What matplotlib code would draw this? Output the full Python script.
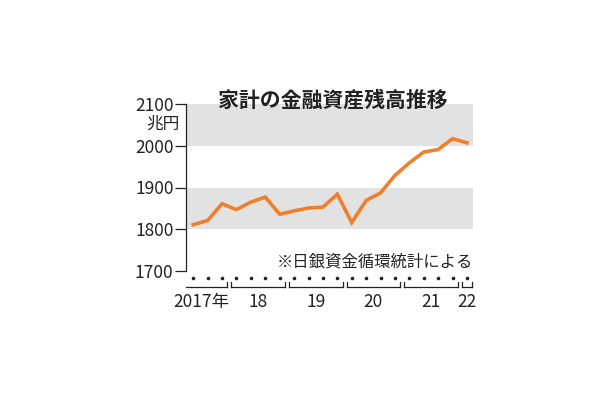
import matplotlib
matplotlib.use("Agg")
import matplotlib.pyplot as plt

plt.rcParams['font.family'] = ['Noto Sans CJK JP', 'DejaVu Sans']

# quarterly household financial assets (trillion yen), 2017 Q2 .. 2022 Q1
values = [1811, 1821, 1861, 1847, 1865, 1877, 1836, 1844, 1851, 1853,
          1884, 1816, 1869, 1887, 1929, 1959, 1985, 1991, 2017, 2007]
year_labels = ['2017年', '18', '19', '20', '21', '22']
year_counts = [3, 4, 4, 4, 4, 1]
yticks = [1700, 1800, 1900, 2000, 2100]
title = '家計の金融資産残高推移'
note = '※日銀資金循環統計による'
unit = '兆円'

orange = '#ef7f2c'
band = '#e2e2e2'
ink = '#222222'

fig = plt.figure(figsize=(6.1, 4), dpi=100)
ax = fig.add_axes([0.305, 0.3225, 0.4705, 0.4175])

x = list(range(len(values)))
ax.set_xlim(-0.5, len(values) - 0.58)
ax.set_ylim(1700, 2100)

ax.axhspan(1800, 1900, color=band, lw=0, zorder=0)
ax.axhspan(2000, 2100, color=band, lw=0, zorder=0)
ax.plot(x, values, color=orange, lw=2.6, solid_joinstyle='miter', zorder=3)

for s in ['top', 'right', 'bottom']:
    ax.spines[s].set_visible(False)
ax.spines['left'].set_color(ink)
ax.spines['left'].set_linewidth(0.9)
ax.set_xticks([])
ax.set_yticks(yticks)
ax.set_yticklabels([str(v) for v in yticks])
ax.tick_params(axis='y', length=8, width=0.9, color=ink, labelcolor=ink,
               labelsize=12.5, pad=1)

ax.text(-0.95, 2052, unit, ha='right', va='center', fontsize=12, color=ink)
ax.text(9.7, 2110, title, ha='center', va='center', fontsize=15,
        fontweight='bold', color=ink, clip_on=False)
ax.text(19.4, 1722, note, ha='right', va='center', fontsize=11.8, color=ink)

# quarter dots, year brackets and labels below the axis
ax.plot(x, [1683] * len(x), ls='none', marker='o', ms=1.6, color=ink, clip_on=False)
start = 0
for i, (lab, n) in enumerate(zip(year_labels, year_counts)):
    end = start + n - 1
    x0 = -0.5 if i == 0 else start - 0.36
    x1 = end + 0.36
    ax.plot([x0, x1], [1661, 1661], color=ink, lw=0.9, clip_on=False)
    if i > 0:
        ax.plot([x0, x0], [1661, 1674], color=ink, lw=0.9, clip_on=False)
    ax.plot([x1, x1], [1661, 1674], color=ink, lw=0.9, clip_on=False)
    cx = 0.55 if i == 0 else (start + end) / 2
    ax.text(cx, 1625, lab, ha='center', va='center', fontsize=12.5, color=ink,
            clip_on=False)
    start = end + 1

fig.savefig('out.png', dpi=100, facecolor='white')
